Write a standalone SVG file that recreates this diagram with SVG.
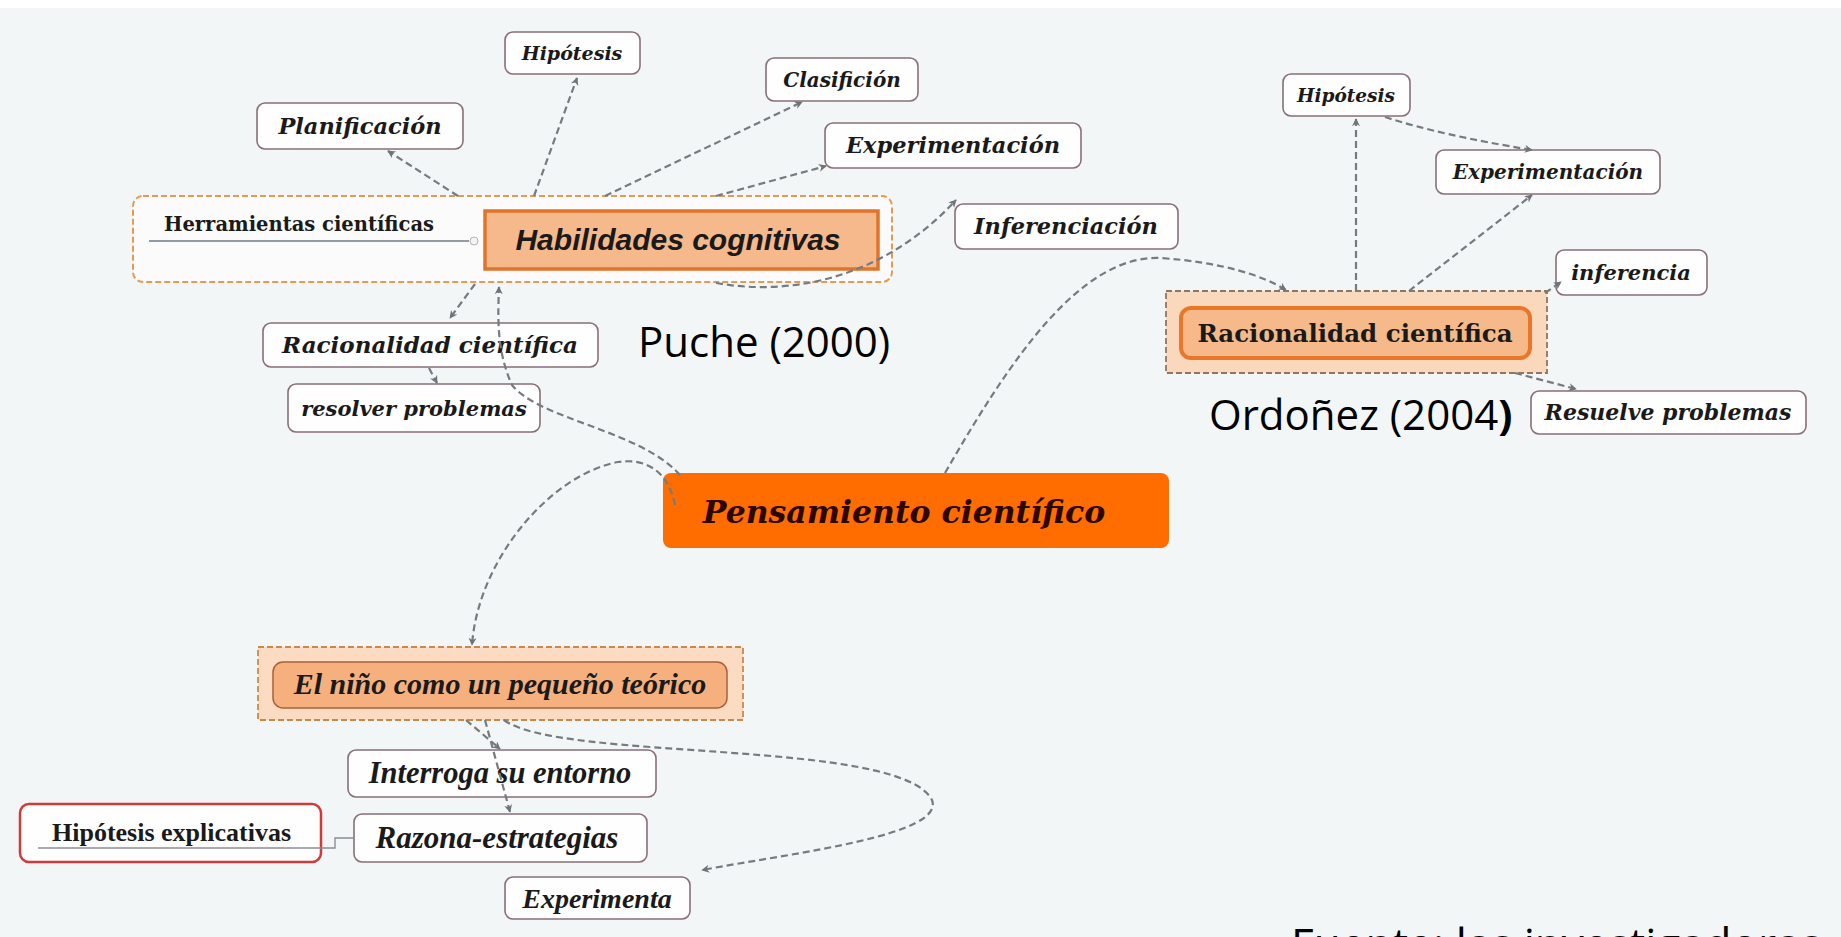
<svg xmlns="http://www.w3.org/2000/svg" width="1841" height="937" viewBox="0 0 1841 937">
<style>
.bg{fill:#f3f6f7}
.node rect{fill:#fefefe;stroke:#8a6e78;stroke-width:1.6}
.t{font-family:"DejaVu Serif",serif;font-weight:bold;font-style:italic;fill:#1a1a1a;text-anchor:middle}
.tl{font-family:"Liberation Serif",serif;font-weight:bold;font-style:italic;fill:#1a1a1a;text-anchor:middle}
.tu{font-family:"DejaVu Serif",serif;font-weight:bold;fill:#1a1a1a}
.cite{font-family:"Open Sans",sans-serif;fill:#000}
.con path{fill:none;stroke:#767b80;stroke-width:2.2;stroke-dasharray:7 4}
.con .plain{stroke-dasharray:none;stroke-width:1.4;stroke:#8a8f94}
</style>
<defs>
<marker id="ah" viewBox="0 0 10 10" refX="9" refY="5" markerWidth="8" markerHeight="8" orient="auto" markerUnits="userSpaceOnUse">
<path d="M0,0 L10,5 L0,10 L3,5 Z" fill="#6e737a"/>
</marker>
</defs>
<rect class="bg" x="0" y="8" width="1841" height="929"/>
<rect x="0" y="0" width="1841" height="8" fill="#ffffff"/>

<g id="habilidades-container">
<rect x="133" y="196" width="759" height="86" rx="10" fill="#fbfbfb" stroke="#e39a55" stroke-width="2" stroke-dasharray="6 3"/>
<text class="tu" x="164" y="231" font-size="19.5">Herramientas científicas</text>
<line x1="149" y1="241" x2="469" y2="241" stroke="#6f7a86" stroke-width="1.5"/>
<circle cx="474" cy="241" r="4" fill="#f3f3f3" stroke="#b5b5b5" stroke-width="1"/>
</g>
<g id="habilidades">
<rect x="485" y="211" width="393" height="58" fill="#f6b98b" stroke="#e0742a" stroke-width="3.5"/>
<text x="678" y="250" font-family="Liberation Sans, Arial, sans-serif" font-weight="bold" font-style="italic" font-size="30" fill="#1a1a1a" text-anchor="middle">Habilidades cognitivas</text>
</g>

<g id="hipotesis-1" class="node"><rect x="505" y="32" width="135" height="42" rx="8"/><text class="t" x="572" y="60" font-size="19">Hipótesis</text></g>
<g id="planificacion" class="node"><rect x="257" y="103" width="206" height="46" rx="8"/><text class="t" x="360" y="134" font-size="22.5">Planificación</text></g>
<g id="clasificion" class="node"><rect x="766" y="58" width="152" height="43" rx="8"/><text class="t" x="842" y="87" font-size="20">Clasifición</text></g>
<g id="experimentacion-1" class="node"><rect x="825" y="123" width="256" height="45" rx="8"/><text class="t" x="953" y="153" font-size="22.5">Experimentación</text></g>
<g id="inferenciacion" class="node"><rect x="955" y="204" width="223" height="45" rx="8"/><text class="t" x="1066" y="234" font-size="22.5">Inferenciación</text></g>
<g id="racionalidad-1" class="node"><rect x="263" y="323" width="335" height="44" rx="8"/><text class="t" x="430" y="353" font-size="23">Racionalidad científica</text></g>
<g id="resolver" class="node"><rect x="288" y="384" width="252" height="48" rx="8"/><text class="t" x="414" y="416" font-size="21">resolver problemas</text></g>

<g id="puche"><text class="cite" x="638" y="357" font-size="42">Puche (2000)</text></g>

<g id="pensamiento">
<rect x="663" y="473" width="506" height="75" rx="8" fill="#ff6c00"/>
<text class="t" x="904" y="523" font-size="31.5" style="fill:#2a0800">Pensamiento científico</text>
</g>

<g id="hipotesis-2" class="node"><rect x="1283" y="74" width="127" height="42" rx="8"/><text class="t" x="1346" y="102" font-size="18.5">Hipótesis</text></g>
<g id="experimentacion-2" class="node"><rect x="1436" y="150" width="224" height="44" rx="8"/><text class="t" x="1548" y="179" font-size="20">Experimentación</text></g>
<g id="inferencia" class="node"><rect x="1556" y="250" width="151" height="45" rx="8"/><text class="t" x="1631" y="280" font-size="21">inferencia</text></g>
<g id="racionalidad-2">
<rect x="1166" y="291" width="381" height="82" fill="#fad8bc" stroke="#8e7564" stroke-width="1.8" stroke-dasharray="6 3"/>
<rect x="1181" y="308" width="349" height="50" rx="10" fill="#f5b98a" stroke="#e8772a" stroke-width="4"/>
<text class="tu" x="1355" y="342" font-size="24.5" text-anchor="middle">Racionalidad científica</text>
</g>
<g id="ordonez"><text class="cite" x="1209" y="430" font-size="42">Ordoñez (2004<tspan font-weight="bold">)</tspan></text></g>
<g id="resuelve" class="node"><rect x="1531" y="391" width="275" height="43" rx="8"/><text class="t" x="1668" y="420" font-size="22">Resuelve problemas</text></g>

<g id="nino">
<rect x="258" y="647" width="485" height="73" fill="#fbdcc2" stroke="#c88a4a" stroke-width="1.8" stroke-dasharray="6 3"/>
<rect x="273" y="662" width="454" height="46" rx="10" fill="#f5b07e" stroke="#a9603a" stroke-width="1.5"/>
<text class="tl" x="500" y="694" font-size="30">El niño como un pequeño teórico</text>
</g>
<g id="interroga" class="node"><rect x="348" y="750" width="308" height="47" rx="8"/><text class="tl" x="500" y="783" font-size="30.5">Interroga su entorno</text></g>
<g id="razona" class="node"><rect x="354" y="814" width="293" height="48" rx="8"/><text class="tl" x="497" y="848" font-size="31">Razona-estrategias</text></g>
<g id="hipotesis-explicativas">
<rect x="20" y="804" width="301" height="58" rx="9" fill="#fefefe" stroke="#d23a3a" stroke-width="2.5"/>
<text x="52" y="841" font-family="Liberation Serif, serif" font-weight="bold" font-size="26" fill="#1a1a1a">Hipótesis explicativas</text>
</g>
<g id="experimenta" class="node"><rect x="505" y="877" width="185" height="42" rx="8"/><text class="tl" x="597" y="908" font-size="28">Experimenta</text></g>

<g id="fuente"><text class="cite" x="1291" y="960" font-size="44">Fuente: las investigadoras</text></g>

<g id="connectors" class="con">
<path d="M458,196 L388,151" marker-end="url(#ah)"/>
<path d="M534,196 L577,78" marker-end="url(#ah)"/>
<path d="M605,196 L802,102" marker-end="url(#ah)"/>
<path d="M716,196 L826,166" marker-end="url(#ah)"/>
<path d="M716,283 C800,298 890,272 956,200" marker-end="url(#ah)"/>
<path d="M475,284 L450,318" marker-end="url(#ah)"/>
<path d="M429,368 L437,383" marker-end="url(#ah)"/>
<path d="M680,475 C640,430 540,420 512,385 C496,350 498,315 499,287" marker-end="url(#ah)"/>
<path d="M945,473 C1010,360 1080,255 1160,258 C1220,262 1262,275 1286,290" marker-end="url(#ah)"/>
<path d="M675,505 C668,470 645,458 618,462 C550,475 478,560 472,645" marker-end="url(#ah)"/>
<path d="M1356,291 L1356,119" marker-end="url(#ah)"/>
<path d="M1385,117 Q1440,135 1532,150" marker-end="url(#ah)"/>
<path d="M1409,291 L1532,195" marker-end="url(#ah)"/>
<path d="M1545,293 L1561,282" marker-end="url(#ah)"/>
<path d="M1515,373 L1576,389" marker-end="url(#ah)"/>
<path d="M466,720 L500,749" marker-end="url(#ah)"/>
<path d="M485,720 L510,812" marker-end="url(#ah)"/>
<path d="M504,720 C560,762 900,738 932,800 C945,835 800,852 702,870" marker-end="url(#ah)"/>
<path class="plain" d="M38,848 L335,848 L335,838 L354,838"/>
</g>
</svg>
